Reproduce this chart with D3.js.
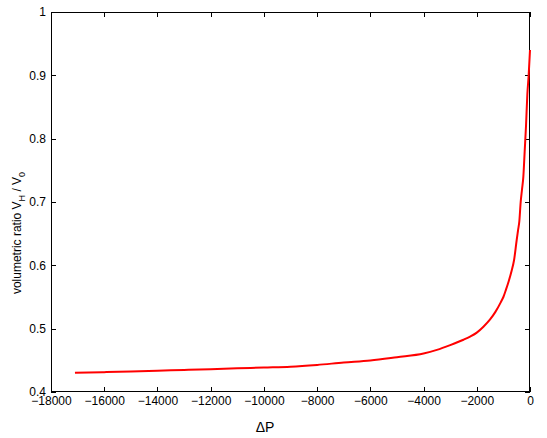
<!DOCTYPE html>
<html>
<head>
<meta charset="utf-8">
<script src="https://cdn.jsdelivr.net/npm/d3@7"></script>
<style>
  html, body { margin: 0; padding: 0; background: #fff; }
  svg { display: block; }
  text { font-family: "Liberation Sans", Arial, Helvetica, sans-serif; fill: #000; }
</style>
</head>
<body>
<svg id="chart" width="547" height="438"></svg>
<script>
// Data
const deltaP = [-17100, -16000, -15000, -14000, -13000, -12000, -11000, -10000, -9000, -8000,
  -7000, -6000, -5000, -4000, -3500, -3000, -2500, -2250, -2000, -1750, -1500,
  -1300, -1100, -1000, -900, -800, -700, -600, -500, -450, -400,
  -350, -300, -250, -200, -150, -100, -50, 0];
const ratio = [0.4302, 0.4313, 0.4325, 0.4337, 0.4349, 0.4361, 0.4374, 0.4387, 0.4400, 0.4428,
  0.4465, 0.4497, 0.4550, 0.4608, 0.4665, 0.4740, 0.4825, 0.4875, 0.4937, 0.5030, 0.5145,
  0.5265, 0.5415, 0.5500, 0.5620, 0.5750, 0.5900, 0.6080, 0.6400, 0.6550, 0.6700,
  0.7000, 0.7200, 0.7400, 0.7800, 0.8200, 0.8700, 0.9000, 0.9400];
const xTicks = [-18000, -16000, -14000, -12000, -10000, -8000, -6000, -4000, -2000, 0];
const yTicks = [0.4, 0.5, 0.6, 0.7, 0.8, 0.9, 1];

const svg = d3.select("#chart");
const L = 51, R = 530, T = 12, B = 392;

const x = d3.scaleLinear().domain([-18000, 0]).range([L, R]);
const y = d3.scaleLinear().domain([0.4, 1]).range([B, T]);

svg.append("rect").attr("width", 547).attr("height", 438).attr("fill", "#fff");

// Axes
const fs = "12px";
const gB = svg.append("g").attr("transform", `translate(0,${B})`)
  .call(d3.axisBottom(x).tickValues(xTicks).tickFormat(d3.format("d")).tickSize(-5).tickSizeOuter(0).tickPadding(4));
const gT = svg.append("g").attr("transform", `translate(0,${T})`)
  .call(d3.axisTop(x).tickValues(xTicks).tickFormat("").tickSize(-5).tickSizeOuter(0));
const gL = svg.append("g").attr("transform", `translate(${L},0)`)
  .call(d3.axisLeft(y).tickValues(yTicks).tickFormat(d => d3.format("")(d)).tickSize(-5).tickSizeOuter(0).tickPadding(5));
const gR = svg.append("g").attr("transform", `translate(${R},0)`)
  .call(d3.axisRight(y).tickValues(yTicks).tickFormat("").tickSize(-5).tickSizeOuter(0));

[gB, gT, gL, gR].forEach(g => {
  g.select(".domain").remove();
  g.selectAll(".tick line").attr("stroke", "#000").attr("shape-rendering", "crispEdges");
  g.selectAll("text").attr("font-size", fs).attr("font-family", "Liberation Sans, Arial, sans-serif").attr("fill", "#000");
});

// Box
svg.append("rect")
  .attr("x", L + 0.5).attr("y", T + 0.5)
  .attr("width", R - L - 1).attr("height", B - T - 1)
  .attr("fill", "none").attr("stroke", "#000").attr("stroke-width", 1)
  .attr("shape-rendering", "crispEdges");

// Curve
const pts = deltaP.map((d, i) => [d, ratio[i]]);
svg.append("path")
  .datum(pts)
  .attr("fill", "none")
  .attr("stroke", "#ff0000")
  .attr("stroke-width", 2)
  .attr("d", d3.line().x(d => x(d[0])).y(d => y(d[1])).curve(d3.curveMonotoneX));

// X label
svg.append("text")
  .attr("x", 265).attr("y", 432)
  .attr("text-anchor", "middle")
  .attr("font-size", "14px")
  .text("\u0394P");

// Y label
const yl = svg.append("text")
  .attr("transform", "translate(21,233) rotate(-90)")
  .attr("text-anchor", "middle")
  .attr("font-size", "12px");
yl.append("tspan").text("volumetric ratio V");
yl.append("tspan").attr("dy", 4).attr("font-size", "9px").text("H");
yl.append("tspan").attr("dy", -4).text(" / V");
yl.append("tspan").attr("dy", 4).attr("font-size", "9px").text("0");
</script>
</body>
</html>
